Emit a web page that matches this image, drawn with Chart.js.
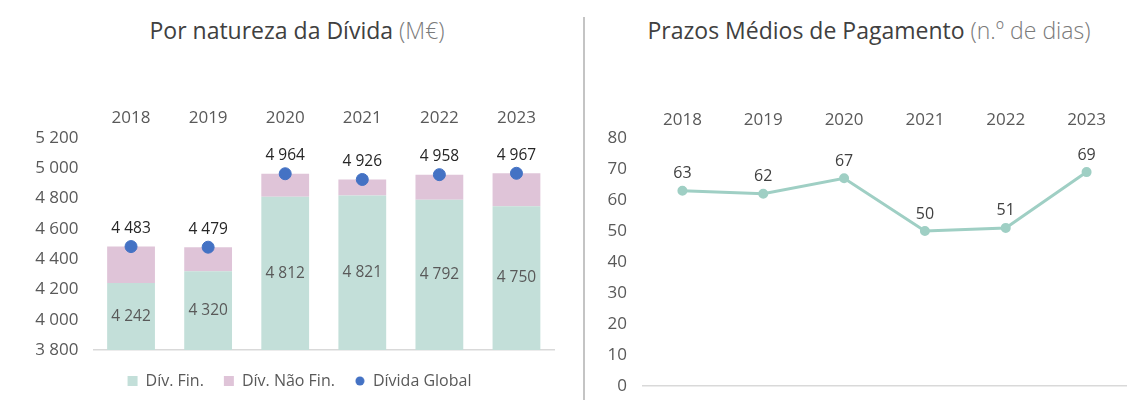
<!DOCTYPE html>
<html>
<head>
<meta charset="utf-8">
<script src="https://cdn.jsdelivr.net/npm/chart.js@4.4.1/dist/chart.umd.min.js"></script>
<style>
  body { margin: 0; background: #fff; width: 1142px; height: 400px; position: relative; overflow: hidden; font-family: "Open Sans", sans-serif; }
  .titulo { position: absolute; top: 14px; font-size: 23px; color: #404040; white-space: nowrap; transform: translateX(-50%); }
  .titulo span { color: #7a7a7a; font-weight: 300; }
  #sep { position: absolute; left: 583px; top: 17px; width: 2px; height: 383px; background: #c4c4c4; }
  canvas { position: absolute; top: 90px; }
</style>
</head>
<body>
<div class="titulo" style="left:297px">Por natureza da Dívida <span>(M€)</span></div>
<div class="titulo" style="left:869px">Prazos Médios de Pagamento <span>(n.º de dias)</span></div>
<div id="sep"></div>
<canvas id="dividaChart" width="580" height="310" style="left:0"></canvas>
<canvas id="prazosChart" width="558" height="310" style="left:584px"></canvas>
<script>
// dados
const anos = ['2018', '2019', '2020', '2021', '2022', '2023'];
const divFin = [4242, 4320, 4812, 4821, 4792, 4750];
const divNaoFin = [241, 159, 152, 105, 166, 217];
const dividaGlobal = [4483, 4479, 4964, 4926, 4958, 4967];
const prazos = [63, 62, 67, 50, 51, 69];

const fmt = v => String(v).replace(/\B(?=(\d{3})+(?!\d))/g, ' ');
const cinza = '#595959';
const fonte = 'Open Sans';
const ordemLegenda = ['Dív. Fin.', 'Dív. Não Fin.', 'Dívida Global'];

// bolinha pequena para a legenda da Dívida Global
const bolinha = document.createElement('canvas');
bolinha.width = 10;
bolinha.height = 10;
const bctx = bolinha.getContext('2d');
bctx.fillStyle = '#4472c4';
bctx.beginPath();
bctx.arc(5, 5, 4.5, 0, Math.PI * 2);
bctx.fill();

// escreve os valores por cima / dentro das barras
const rotulos = {
    id: 'rotulos',
    afterDatasetsDraw(chart, args, opts) {
        const ctx = chart.ctx;
        ctx.save();
        ctx.textAlign = 'center';
        ctx.textBaseline = 'middle';
        (opts.list || []).forEach(r => {
            const meta = chart.getDatasetMeta(r.ds);
            const data = chart.data.datasets[r.ds].data;
            ctx.font = r.size + 'px "' + fonte + '"';
            ctx.fillStyle = r.color;
            meta.data.forEach((el, i) => {
                const y = r.mid ? (el.y + chart.chartArea.bottom) / 2 : el.y + r.dy;
                ctx.fillText(fmt(data[i]), el.x, y);
            });
        });
        ctx.restore();
    }
};

// acerta a posição da legenda
const moverLegenda = {
    id: 'moverLegenda',
    afterLayout(chart, args, opts) {
        const lg = chart.legend;
        if (!lg) return;
        lg.left += opts.dx || 0;
        lg.right += opts.dx || 0;
        lg.top += opts.dy || 0;
        lg.bottom += opts.dy || 0;
        lg.adjustHitBoxes();
    }
};

const soLinhaBase = v => ctx => ctx.tick && ctx.tick.value === v ? '#d9d9d9' : 'rgba(0,0,0,0)';

// gráfico 1: natureza da dívida
new Chart(document.getElementById('dividaChart'), {
    type: 'bar',
    data: {
        labels: anos,
        datasets: [
            {
                type: 'line',
                label: 'Dívida Global',
                data: dividaGlobal,
                showLine: false,
                stack: 'global',
                pointStyle: 'circle',
                pointRadius: 6,
                pointHoverRadius: 6,
                backgroundColor: '#4472c4',
                borderColor: '#4472c4',
                order: 0
            },
            {
                label: 'Dív. Fin.',
                data: divFin,
                backgroundColor: '#c3dfd9',
                pointStyle: 'rect',
                stack: 'div',
                order: 1
            },
            {
                label: 'Dív. Não Fin.',
                data: divNaoFin,
                backgroundColor: '#dfc4d8',
                pointStyle: 'rect',
                stack: 'div',
                order: 1
            }
        ]
    },
    options: {
        responsive: false,
        animation: false,
        barPercentage: 0.62,
        categoryPercentage: 1,
        layout: { padding: { left: 0, right: 25, top: 0, bottom: 4 } },
        scales: {
            x: {
                position: 'top',
                stacked: true,
                grid: { display: false },
                border: { display: false },
                ticks: { color: cinza, font: { family: fonte, size: 17 }, padding: 2 },
                afterFit: s => { s.height = 48; }
            },
            y: {
                stacked: true,
                min: 3800,
                max: 5200,
                grid: { color: soLinhaBase(3800), drawTicks: false, lineWidth: 1.5 },
                border: { display: false },
                ticks: { stepSize: 200, color: cinza, padding: 14, font: { family: fonte, size: 17 }, callback: v => fmt(v) },
                afterFit: s => { s.width = 92.5; }
            }
        },
        plugins: {
            legend: {
                position: 'bottom',
                labels: {
                    usePointStyle: true,
                    boxWidth: 10,
                    boxHeight: 10,
                    color: cinza,
                    padding: 20,
                    font: { family: fonte, size: 16 },
                    generateLabels: chart => {
                        const itens = Chart.defaults.plugins.legend.labels.generateLabels(chart);
                        itens.forEach(it => { if (it.text === 'Dívida Global') it.pointStyle = bolinha; });
                        return itens;
                    },
                    sort: (a, b) => ordemLegenda.indexOf(a.text) - ordemLegenda.indexOf(b.text)
                }
            },
            tooltip: { enabled: false },
            moverLegenda: { dx: 22, dy: 3 },
            rotulos: {
                list: [
                    { ds: 0, dy: -18, size: 15.5, color: '#262626' },
                    { ds: 1, mid: true, size: 15.5, color: cinza }
                ]
            }
        }
    },
    plugins: [rotulos, moverLegenda]
});

// gráfico 2: prazos médios de pagamento
new Chart(document.getElementById('prazosChart'), {
    type: 'line',
    data: {
        labels: anos,
        datasets: [{
            label: 'Prazos',
            data: prazos,
            borderColor: '#9fcfc4',
            backgroundColor: '#9fcfc4',
            borderWidth: 3,
            pointRadius: 3.5,
            tension: 0
        }]
    },
    options: {
        responsive: false,
        animation: false,
        layout: { padding: { left: 0, right: 15, top: 0, bottom: 14 } },
        scales: {
            x: {
                position: 'top',
                offset: true,
                grid: { display: false },
                border: { display: false },
                ticks: { color: cinza, font: { family: fonte, size: 17 }, padding: 0 },
                afterFit: s => { s.height = 48; }
            },
            y: {
                min: 0,
                max: 80,
                grid: { color: soLinhaBase(0), drawTicks: false, lineWidth: 1.5 },
                border: { display: false },
                ticks: { stepSize: 10, color: cinza, padding: 15, font: { family: fonte, size: 17 } },
                afterFit: s => { s.width = 58; s.paddingTop = 0; s.paddingBottom = 0; }
            }
        },
        plugins: {
            legend: { display: false },
            tooltip: { enabled: false },
            rotulos: { list: [{ ds: 0, dy: -17, size: 16, color: '#404040' }] }
        }
    },
    plugins: [rotulos]
});
</script>
</body>
</html>
